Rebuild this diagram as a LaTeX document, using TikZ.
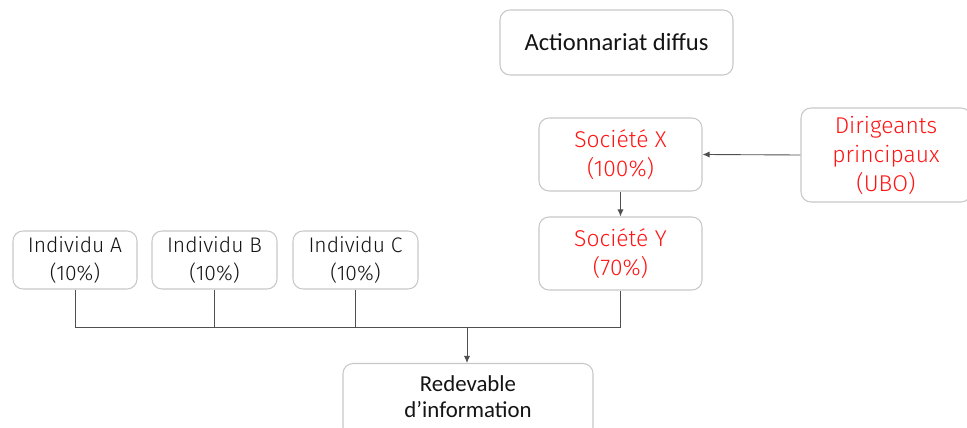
\documentclass[tikz,border=0pt]{standalone}
\usepackage{fontspec}
\setmainfont{Fira Sans Light}
\newfontfamily\calfont{Carlito}
\usetikzlibrary{arrows.meta}
\definecolor{boxline}{RGB}{200,200,200}
\definecolor{conn}{RGB}{80,80,80}
\definecolor{redtxt}{RGB}{255,20,20}
\definecolor{txt}{RGB}{20,20,20}
\begin{document}
\begin{tikzpicture}[x=0.02cm,y=-0.02cm,
  box/.style={draw=boxline,line width=0.6pt,rounded corners=0.2cm,fill=white,align=center,inner sep=0pt,text=txt,font=\fontsize{12}{16}\selectfont},
  calbox/.style={box,font=\calfont\fontsize{14}{16}\selectfont},
  redbox/.style={box,text=redtxt,font=\fontsize{13}{16.5}\selectfont},
  link/.style={draw=conn,line width=0.5pt},
  arr/.style={link,-{Latex[length=4pt,width=3.5pt]}}]
\useasboundingbox (0,0) rectangle (967,428);
\node[calbox,minimum width=233*0.02cm,minimum height=65*0.02cm] (act) at (616.5,42.5) {Actionnariat diffus};
\node[redbox,minimum width=163*0.02cm,minimum height=73*0.02cm] (sx) at (620.5,154.5) {Société X\\(100\%)};
\node[redbox,minimum width=163*0.02cm,minimum height=73*0.02cm] (sy) at (620.5,253.5) {Société Y\\(70\%)};
\node[redbox,minimum width=170*0.02cm,minimum height=94*0.02cm] (dir) at (886,155) {Dirigeants\\principaux\\(UBO)};
\node[box,minimum width=124*0.02cm,minimum height=58*0.02cm] (ia) at (75,260) {Individu A\\(10\%)};
\node[box,minimum width=125*0.02cm,minimum height=58*0.02cm] (ib) at (214.5,260) {Individu B\\(10\%)};
\node[box,minimum width=125*0.02cm,minimum height=58*0.02cm] (ic) at (355.5,260) {Individu C\\(10\%)};
\node[calbox,minimum width=250*0.02cm,minimum height=74*0.02cm,anchor=north] (red) at (468,363) {};
\node[font=\calfont\fontsize{13}{15}\selectfont,text=txt,align=center,anchor=north,inner sep=0pt] (redt) at (468,375) {Redevable\\d’information};
\coordinate (j) at (467,327);
\draw[arr] (dir.west) -- (sx.east);
\draw[arr] (sx.south) -- (sy.north);
\draw[link] (ia.south) |- (j);
\draw[link] (ib.south) -- (ib.south |- j);
\draw[link] (ic.south) -- (ic.south |- j);
\draw[link] (sy.south) |- (j);
\draw[arr] (j) -- (red.north -| j);
\end{tikzpicture}
\end{document}
